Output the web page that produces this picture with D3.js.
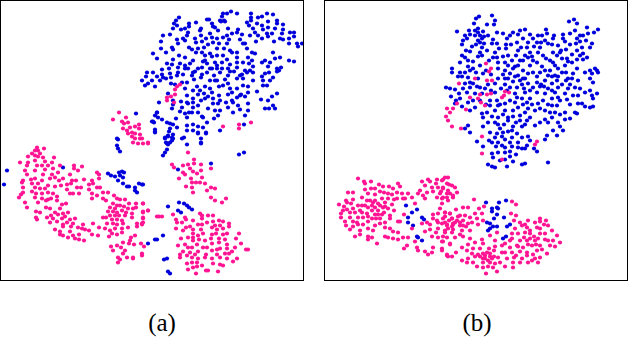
<!DOCTYPE html>
<meta charset="utf-8">
<style>
    body {
        margin: 0;
        background: white;
    }

    svg {
        display: block;
    }

    .panel-label {
        font: 25px "Liberation Serif", serif;
        text-anchor: middle;
    }
</style>

<body>
    <script src="https://d3js.org/d3.v7.min.js"></script>
    <script>
        // values, in the embedding's own units
        var panelLabels = ["(a)", "(b)"];
        var classColors = ["#0000dc", "#ff1493"];

        var aBlue = [[179,17],[176,20],[174,23],[207,19],[209,19],[223,13],[227,13],[231,11],[237,13],[222,16],[220,20],[251,13],[251,17],[267,13],[273,14],[262,16],[258,17],[224,20],[247,22],[268,21],[277,20],[251,20],
            [173,28],[177,25],[181,29],[185,28],[189,23],[189,26],[196,22],[201,28],[212,23],[213,26],[221,21],[225,21],[215,27],[228,28],[238,29],[237,32],[249,25],[257,23],[253,28],[262,25],[263,29],[268,27],[277,23],[275,28],[283,24],[283,29],[290,32],[294,32],
            [163,35],[170,34],[161,41],[188,32],[187,35],[201,35],[195,38],[196,42],[210,33],[212,37],[202,41],[177,39],[183,38],[185,40],[217,38],[227,35],[229,39],[227,43],[223,37],[240,39],[245,43],[250,35],[258,35],[256,41],[262,38],[268,36],[267,33],[274,41],[280,38],[283,39],[282,33],[289,38],[289,43],[294,36],[297,43],[302,43],[298,46],
            [166,52],[161,48],[172,47],[173,49],[178,43],[153,53],[189,47],[192,49],[198,48],[204,47],[208,44],[202,52],[196,52],[213,42],[217,48],[219,43],[224,48],[230,50],[237,52],[243,43],[247,48],[252,52],[255,53],[273,52],[179,55],[185,57],[210,53],[212,56],[205,55],[217,55],[223,55],[232,52],[237,57],[248,57],
            [157,58],[173,59],[167,63],[172,64],[180,63],[185,65],[193,60],[190,63],[203,61],[207,63],[215,62],[217,65],[222,62],[227,59],[230,64],[237,62],[243,62],[249,63],[262,62],[265,60],[270,62],[268,66],[275,58],[280,57],[289,60],[294,61],[169,68],[162,69],[178,67],[185,68],[198,68],[195,71],[202,67],[212,68],[217,68],[222,68],[237,67],[245,70],[253,66],[277,68],[281,67],[279,70],
            [147,72],[153,72],[146,76],[162,74],[170,73],[171,77],[177,75],[183,74],[193,72],[192,75],[202,74],[207,72],[220,72],[214,75],[228,75],[230,71],[234,71],[242,74],[247,72],[253,72],[265,73],[262,76],[269,72],[277,71],[142,80],[145,85],[152,80],[148,83],[155,86],[157,76],[160,80],[163,77],[171,83],[182,82],[187,82],[194,79],[201,77],[210,80],[217,80],[225,79],[228,83],[237,78],[243,78],[253,80],[263,80],[270,80],[273,77],[240,75],
            [197,86],[205,86],[210,88],[212,92],[219,86],[223,85],[237,88],[248,86],[248,92],[263,85],[267,85],[257,91],[277,93],[168,93],[185,88],[193,90],[187,95],[198,94],[204,93],[193,98],[213,98],[219,95],[228,94],[241,94],[237,97],[245,96],[272,96],[261,99],[268,100],[159,102],[173,100],[181,101],[187,102],[201,100],[205,98],[213,103],[220,100],[232,100],[233,102],
            [172,108],[173,104],[182,107],[188,103],[193,102],[193,107],[198,105],[208,108],[218,103],[228,107],[238,105],[248,103],[248,110],[240,109],[233,112],[265,108],[269,108],[273,105],[275,108],[180,111],[185,113],[189,112],[187,117],[220,110],[218,115],[245,115],[157,112],[155,115],[202,116],[203,117],[214,118],
            [158,117],[162,119],[152,121],[154,122],[167,122],[170,123],[173,124],[177,127],[170,128],[169,131],[155,131],[187,125],[193,124],[198,126],[203,127],[207,122],[187,130],[193,130],[198,132],[206,132],[244,124],[220,130],[165,138],[168,135],[172,137],[167,143],[170,142],[182,138],[184,137],[187,144],[201,138],[201,143],[167,149],[173,138],
            [155,132],[165,137],[168,136],[173,134],[172,140],[166,142],[168,144],[201,142],[206,133],[198,133],[165,152],[163,155],[239,154],[244,152],[211,163],[178,169],[142,184],[168,206],[179,202],[184,203],[187,205],[189,207],[192,209],[178,210],[181,212],[163,235],[155,239],[157,239],[148,243],[167,258],[164,259],[168,271],[170,273],
            [7,170],[4,184],[63,167],[136,113],[157,112],[153,121],[155,129],[117,138],[118,139],[117,145],[118,148],[120,151],[108,173],[111,175],[115,176],[119,172],[122,171],[124,172],[120,175],[123,177],[118,180],[123,183],[127,186],[129,186],[135,187],[139,183],[143,184],[135,190],[137,192]];

        var aBlueMore = [[200,30],[206,38],[218,30],[232,33],[242,34],[255,32],[272,33],[205,60],[210,68],[228,68],[250,70],[215,80],[200,90],[230,88],[243,85],[178,72],[188,68],[166,78],[175,84],[252,60],[232,92],[208,96],[226,102],[215,110],[240,95],[192,112],[198,112],[176,118]];

        var aPink = [[180,84],[177,86],[175,89],[175,94],[171,96],[167,97],[167,100],[174,102],[223,126],[239,124],[239,128],[251,122],
            [119,112],[113,119],[126,117],[122,121],[124,123],[128,122],[139,124],[130,127],[135,126],[139,128],[123,128],[127,130],[132,132],[135,133],[128,133],[132,136],[140,134],[135,138],[140,138],[133,142],[138,143],[143,143],[148,142],
            [37,147],[44,148],[35,150],[38,150],[32,153],[40,153],[28,156],[35,155],[38,156],[54,157],[43,157],[20,162],[28,162],[35,160],[45,161],[52,162],[27,165],[37,165],[42,165],[48,165],[60,165],[74,165],[82,166],[25,170],[35,170],[45,169],[53,168],[74,168],[78,170],[27,174],[43,174],[52,174],[58,172],[70,174],[97,172],[99,174],[50,178],[55,177],[63,178],[59,180],[23,180],[31,179],[35,178],[42,180],[72,180],[76,180],[84,179],[92,180],[99,178],[22,182],[32,183],[38,183],[48,185],[55,186],[61,185],[67,184],[71,183],[89,184],[93,183],[97,187],[23,187],[35,187],[40,188],[45,188],[77,187],[81,187],[89,189],[100,187],[23,192],[32,191],[42,193],[48,192],[67,189],[21,194],[36,193],[53,193],[57,196],[70,193],[73,193],[79,193],[92,193],[97,195],[103,192],[108,192],[19,197],[35,197],[42,198],[48,199],[92,198],[103,198],[114,195],[38,202],[46,200],[51,198],[57,200],[106,200],[117,198],[25,202],[62,204],[66,203],[27,207],[46,207],[50,208],[55,212],[60,208],[36,211],[40,212],[63,213],[68,212],[51,215],[58,214],[65,216],[36,217],[47,217],[53,218],[62,218],[70,219],[37,219],[50,222],[57,221],[67,222],[75,218],[73,223],[63,224],[83,224],[78,227],[93,223],[71,226],[82,228],[55,229],[60,231],[63,226],[70,231],[85,229],[99,227],[89,230],[63,235],[60,234],[73,235],[79,234],[92,234],[98,235],[68,237],[75,238],[79,239],[84,240],
            [113,203],[117,205],[120,199],[125,199],[129,203],[136,203],[143,203],[110,207],[115,208],[120,205],[124,206],[128,208],[133,208],[136,207],[108,211],[113,211],[117,212],[122,210],[126,212],[143,212],[148,210],[110,215],[115,215],[119,215],[125,215],[132,213],[103,217],[106,217],[112,219],[117,219],[122,220],[132,217],[143,217],[157,216],[159,216],[107,223],[113,223],[117,224],[123,223],[137,223],[143,222],[105,228],[110,230],[115,228],[122,228],[128,227],[137,226],[142,224],[112,233],[117,234],[122,232],[109,236],[131,237],[135,235],[130,240],
            [111,246],[117,245],[123,242],[129,243],[134,244],[141,243],[144,246],[113,250],[121,247],[125,250],[118,257],[123,253],[127,257],[133,257],[142,253],[142,255],[118,262],[120,259],[133,258],
            [188,152],[194,159],[194,163],[172,164],[174,167],[183,165],[188,164],[201,164],[211,168],[190,168],[193,171],[183,172],[197,173],[201,170],[185,174],[179,178],[191,178],[202,177],[192,182],[196,182],[200,182],[205,183],[186,186],[192,187],[193,192],[207,190],[211,187],[215,188],[211,197],[215,200],[222,202],[226,198],
            [142,138],[148,143],[143,203],[143,211],[148,210],[143,218],[142,223],[162,216],
            [173,214],[200,213],[202,215],[208,215],[213,215],[176,219],[185,217],[202,218],[177,222],[182,222],[186,219],[193,220],[207,222],[213,221],[219,220],[223,221],[229,223],[229,226],[198,224],[202,224],[190,226],[186,227],[212,227],[215,225],[220,225],[176,228],[183,230],[193,229],[201,229],[217,229],[223,228],[227,233],[239,233],[193,233],[198,235],[203,233],[212,234],[216,233],[223,234],[181,238],[188,237],[193,237],[199,239],[205,240],[211,238],[219,238],[225,239],[236,238],[193,240],[178,245],[185,244],[197,244],[203,247],[212,243],[219,242],[227,244],[241,243],[188,247],[192,247],[207,247],[220,248],[235,247],[183,251],[190,252],[198,251],[212,250],[217,249],[227,248],[232,251],[246,249],[248,249],[180,254],[187,255],[195,254],[206,254],[217,254],[225,253],[229,253],[180,257],[192,257],[198,258],[205,257],[212,258],[220,257],[227,258],[233,261],[237,258],[187,263],[192,262],[197,262],[202,265],[213,263],[220,264],[223,265],[188,269],[193,267],[197,266],[206,270],[208,270],[218,271],[196,273]];

        var bBlue = [[474,23],[476,18],[479,16],[492,15],[495,20],[487,24],[494,24],[569,21],[574,19],[577,23],[587,27],[598,29],[457,31],[469,30],[475,30],[478,32],[483,31],[465,35],[475,35],[480,35],[488,35],[497,32],[503,33],[513,32],[520,30],[525,29],[546,29],[510,35],[518,34],[530,34],[538,35],[542,35],[547,33],[554,35],[563,34],[580,35],[588,33],[594,32],
            [463,40],[478,40],[482,38],[493,39],[507,38],[533,38],[537,42],[545,40],[553,38],[563,38],[577,38],[580,41],[472,46],[480,42],[492,43],[497,43],[506,44],[517,42],[527,47],[540,47],[548,43],[558,45],[565,41],[576,43],[582,47],[592,43],[470,51],[482,47],[495,52],[506,48],[518,50],[521,47],[530,52],[538,52],[553,52],[560,52],[566,49],[577,50],[583,53],
            [462,55],[465,57],[482,55],[493,57],[516,55],[525,55],[532,56],[543,55],[557,55],[572,54],[473,61],[498,62],[508,55],[512,60],[520,60],[533,60],[550,60],[562,58],[568,61],[577,59],[583,59],[480,65],[468,66],[508,65],[518,65],[530,65],[542,66],[555,65],[565,65],[452,68],[452,72],[473,68],[498,68],[505,70],[513,68],[523,70],[545,70],[577,68],[595,68],[597,70],
            [465,72],[470,70],[483,73],[510,73],[518,75],[528,73],[537,76],[548,75],[555,75],[562,72],[573,73],[592,73],[462,76],[468,77],[478,78],[498,78],[505,78],[525,78],[545,80],[557,80],[572,78],[578,80],[590,78],[465,83],[473,83],[495,83],[513,81],[520,80],[528,83],[537,82],[552,83],[570,84],[593,82],
            [446,87],[450,88],[455,89],[463,88],[470,87],[480,87],[485,88],[501,88],[510,87],[517,87],[533,87],[540,86],[548,88],[558,87],[568,88],[575,87],[597,93],[459,93],[475,93],[482,93],[495,92],[515,93],[525,92],[537,92],[545,93],[565,93],[573,95],[578,95],[592,95],[456,100],[473,100],[490,100],[497,100],[517,97],[522,98],[530,98],[552,98],[558,97],[567,99],[593,98],
            [455,103],[475,107],[490,105],[498,105],[505,103],[527,102],[538,103],[552,105],[557,105],[578,103],[582,103],[590,107],[470,110],[482,113],[495,110],[505,110],[513,110],[518,107],[528,108],[540,108],[550,112],[565,112],[577,113],[483,117],[498,117],[508,117],[520,115],[530,117],[545,119],[552,117],[558,122],[565,119],[508,120],[520,120],[527,120],
            [483,126],[465,128],[468,125],[498,124],[513,126],[522,126],[535,125],[500,128],[470,132],[508,131],[553,130],[563,130],[557,135],[497,133],[495,137],[477,141],[489,140],[502,136],[512,137],[517,133],[522,137],[528,136],[547,135],[545,139],[498,142],[505,139],[510,142],[518,142],[502,145],[483,146],[505,147],[518,147],[527,145],[537,151],[525,148],[510,151],[505,152],[492,153],[493,157],[510,156],[513,161],[505,159],[548,162],[488,164],[492,166],[495,167],[507,166],[522,164],[525,163],
            [406,205],[417,209],[412,212],[408,217],[408,222],[413,225],[422,217],[424,219],[417,236],[418,237],[422,240],
            [486,202],[506,200],[499,202],[497,207],[498,208],[492,208],[492,211],[497,214],[504,217],[494,218],[487,222],[490,223],[493,226],[497,226],[510,224],[507,226],[490,228],[488,230],[506,236],[503,238]];

        var bBlueMore = [[467,38],[476,44],[484,43],[487,50],[499,48],[503,56],[511,44],[523,38],[528,42],[534,46],[541,42],[552,44],[561,50],[570,44],[586,40],[590,47],[570,33],[575,30],[583,35],
            [478,56],[489,60],[497,57],[505,62],[515,66],[523,60],[528,57],[537,62],[546,58],[553,62],[558,68],[567,58],[572,62],[580,55],[587,57],[460,62],[468,60],[486,70],[491,74],
            [503,74],[508,78],[515,76],[523,78],[533,72],[540,72],[541,84],[550,70],[552,76],[558,76],[566,72],[568,78],[585,72],[590,70],[598,72],[476,72],[470,82],[458,76],[460,72],
            [477,86],[488,84],[491,90],[505,84],[507,90],[522,84],[524,88],[530,90],[544,86],[552,90],[555,92],[562,84],[566,80],[580,88],[585,92],[590,90],[467,92],[451,96],[460,98],
            [468,102],[480,100],[486,104],[500,104],[510,100],[515,102],[523,104],[532,104],[543,100],[548,104],[560,100],[570,104],[585,106],[593,106],[462,106],
            [487,112],[492,116],[503,114],[513,116],[525,112],[535,110],[545,110],[555,112],[560,114],[570,118],[575,112],[488,122],[495,122],[504,124],[516,122],[525,124],[540,122],[548,122],[560,126],
            [490,132],[503,132],[512,130],[492,142],[496,146],[512,146],[522,148],[530,140],[534,148],[498,152],[516,154],[500,160],[470,34],[478,28],[484,36],[462,44],[466,50],[480,52]];

        var bPink = [[486,63],[491,68],[489,71],[475,78],[459,83],[487,80],[492,80],[470,97],[491,93],[487,94],[480,94],[505,91],[509,92],[504,95],[502,97],[478,98],[481,102],[485,105],[457,103],[453,108],[447,108],[450,112],[446,116],[448,120],[466,109],[452,126],[461,128],[482,136],[537,141],[535,144],[482,153],[502,159],
            [358,178],[364,181],[365,183],[371,181],[379,184],[383,186],[389,186],[393,188],[398,183],[371,188],[375,188],[348,192],[353,192],[368,193],[375,194],[380,191],[388,193],[397,192],[402,193],[408,193],[346,200],[353,199],[362,197],[367,200],[382,198],[388,198],[397,198],[405,198],[412,197],[339,204],[347,202],[373,202],[378,203],[385,202],[392,204],[415,203],[353,208],[362,205],[368,207],[375,207],[383,207],[347,209],[360,210],[372,210],[378,210],[388,208],[341,213],[355,212],[367,213],[375,214],[382,214],[394,210],[341,217],[350,217],[358,217],[363,217],[372,218],[380,218],[390,215],[404,214],[345,221],[353,221],[368,221],[385,222],[390,218],[398,221],[400,221],[412,228],[358,224],[363,224],[375,225],[380,223],[353,226],[368,228],[385,227],[390,228],[350,229],[360,230],[373,230],[393,231],[398,232],[360,234],[355,236],[368,236],[372,237],[385,236],[388,237],[393,238],[398,239],[403,237],[368,239],[377,243],[408,237],[407,245],[404,248],[415,241],[417,247],[418,250],[425,251],[428,254],[433,247],[432,252],[442,250],[447,255],[452,256],
            [422,181],[428,179],[437,179],[443,179],[448,177],[425,185],[432,187],[438,187],[443,187],[452,185],[418,193],[420,190],[433,191],[440,193],[447,193],[453,197],[425,198],[442,198],[433,214],[438,213],[445,212],[440,208],[450,213],[430,224],[437,220],[445,222],[452,218],[430,229],[438,228],[447,225],[453,223],[425,231],[432,236],[438,237],[445,232],[452,232],[442,241],[450,244],
            [442,180],[445,177],[449,184],[455,187],[457,192],[443,188],[448,190],[453,195],[443,197],[447,197],[442,203],[474,199],[484,206],[479,208],[512,201],[516,204],[463,207],[468,207],[456,209],[445,212],[450,213],[475,213],[482,213],[460,215],[465,215],[470,217],[511,213],[516,215],[443,218],[452,218],[457,220],[463,220],[477,218],[483,220],[514,220],[520,222],[528,220],[540,218],[540,221],[447,224],[453,224],[460,225],[468,223],[522,225],[544,224],[548,225],[445,230],[453,229],[462,230],[470,230],[497,232],[515,228],[527,227],[537,227],[552,230],
            [447,237],[455,237],[463,236],[482,239],[490,235],[512,233],[518,233],[530,233],[540,233],[557,235],[450,243],[443,241],[475,242],[483,243],[502,245],[512,238],[520,240],[527,240],[535,240],[545,239],[553,240],[560,242],[442,248],[462,247],[473,248],[489,248],[494,250],[510,247],[517,245],[523,247],[532,245],[540,245],[550,245],
            [447,254],[456,252],[467,250],[472,253],[483,253],[490,253],[502,252],[512,252],[520,251],[527,252],[537,250],[547,253],[448,256],[468,258],[475,256],[485,258],[492,258],[498,257],[507,258],[514,257],[522,258],[535,258],[540,257],[462,260],[467,262],[473,262],[483,262],[490,262],[495,263],[505,266],[513,262],[528,262],[532,260],[538,262],[477,266],[483,267],[488,266],[493,267],[513,267],[497,271],[486,273]];

        var bPinkMore = [[370,200],[375,200],[380,205],[372,205],[365,205],[385,206],[378,214],[368,216],[362,212],[358,205],[351,203],[344,206],[350,212],[357,222],[376,218],[384,212],[392,194],[384,192],[400,186],[403,198],[394,199],[365,189],[346,225],[343,210],
            [427,192],[436,183],[447,183],[430,181],[441,191],[450,193],[448,200],[423,195],[437,197],
            [445,216],[449,220],[455,222],[458,216],[460,222],[463,225],[452,226],[448,228],[442,223],[438,222],[466,226],[472,222],[478,224],[433,218],[436,232],[443,236],[460,234],[470,238],[427,222],[422,223],
            [487,252],[485,255],[490,256],[494,256],[488,260],[483,258],[480,248],[495,246],[480,256],[500,262],[478,254],[468,244],[495,240],
            [525,232],[530,230],[534,236],[538,238],[540,228],[530,238],[524,237],[528,244],[536,244],[545,233],[548,240],[518,246],[510,240],[527,255],[533,254],[542,249],[555,246],[525,224],[546,220],[535,222],[505,252],[516,255],[520,262],[505,243]];

        var width = 628,
            height = 338;

        var svg = d3.select("body").append("svg")
            .attr("width", width)
            .attr("height", height);

        var color = d3.scaleOrdinal()
            .domain(["blue", "pink"])
            .range(classColors);

        function drawPanel(left, right, label, labelX, blue, pink) {
            var w = right - left,
                h = 280;

            var x = d3.scaleLinear()
                .domain([left, right])
                .range([0, w]);
            var y = d3.scaleLinear()
                .domain([0, h])
                .range([0, h]);

            var g = svg.append("g")
                .attr("transform", "translate(" + left + ",0.5)");

            [["blue", blue], ["pink", pink]].forEach(function(series) {
                g.selectAll(".dot-" + series[0])
                    .data(series[1])
                    .enter().append("circle")
                    .attr("class", "dot-" + series[0])
                    .attr("cx", function(d) {
                        return x(d[0]);
                    })
                    .attr("cy", function(d) {
                        return y(d[1]);
                    })
                    .attr("r", 2.1)
                    .style("fill", color(series[0]));
            });

            g.append("rect")
                .attr("x", 0.5)
                .attr("y", 0)
                .attr("width", w)
                .attr("height", h)
                .style("fill", "none")
                .style("stroke", "black")
                .style("stroke-width", 1);

            svg.append("text")
                .attr("class", "panel-label")
                .attr("x", labelX)
                .attr("y", 331)
                .text(label);
        }

        drawPanel(0, 303, panelLabels[0], 162, aBlue.concat(aBlueMore), aPink);
        drawPanel(324, 627, panelLabels[1], 477, bBlue.concat(bBlueMore), bPink.concat(bPinkMore));
    </script>
</body>
